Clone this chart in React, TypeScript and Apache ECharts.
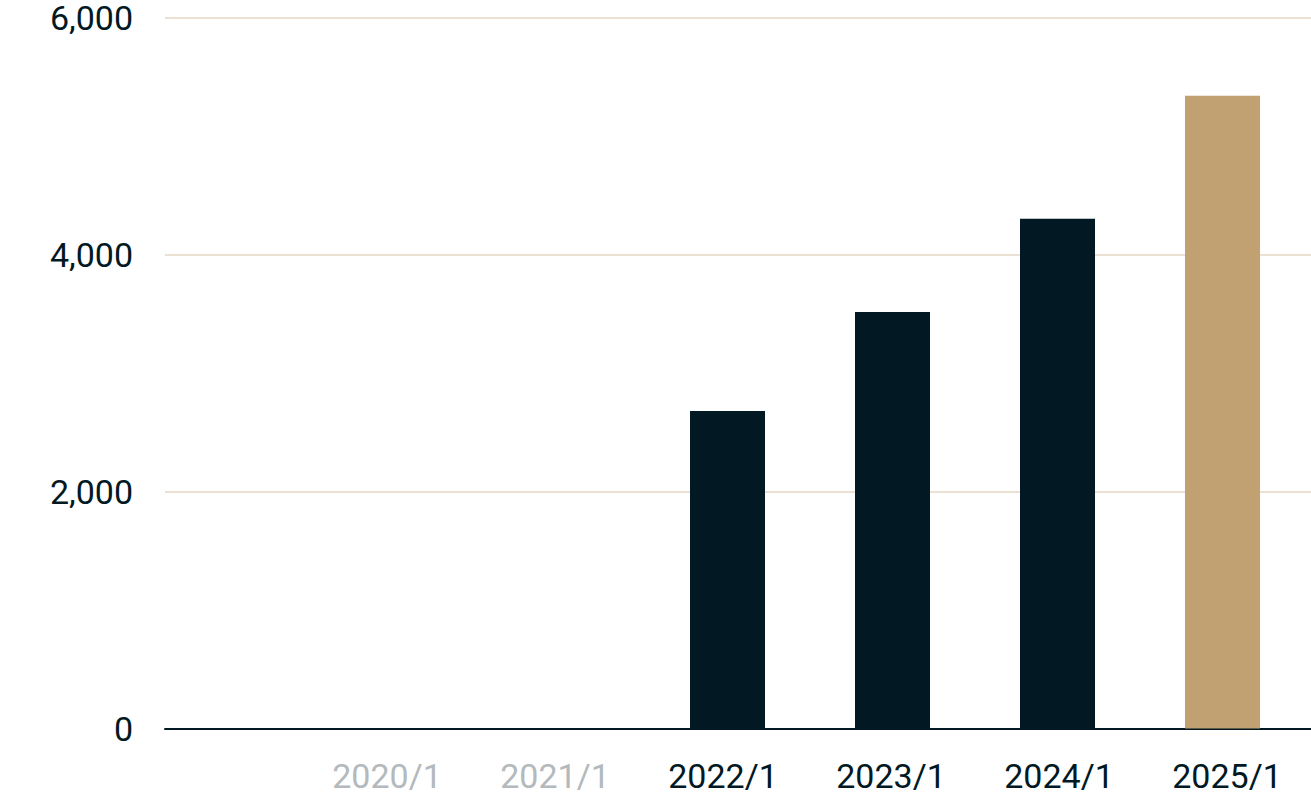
import React, { useEffect, useRef } from "react";
import * as echarts from "echarts";

const categories = ["2020/1", "2021/1", "2022/1", "2023/1", "2024/1", "2025/1"];
const values = [null, null, 2681, 3518, 4304, 5343];
const mutedCategories = ["2020/1", "2021/1"];
const highlightCategory = "2025/1";
const yTicks = [0, 2000, 4000, 6000];

const DARK = "#021923";
const GOLD = "#c1a171";
const GRID = "#ebe1d2";
const MUTED = "#b3b9bc";
const FONT = "Roboto, 'DejaVu Sans', sans-serif";

export default function App() {
  const ref = useRef<HTMLDivElement>(null);

  useEffect(() => {
    if (!ref.current) return;
    const chart = echarts.init(ref.current, undefined, { renderer: "svg" });
    const top = 18;
    const bottom = 72.5;
    const yRange = {
      type: "value",
      min: yTicks[0],
      max: yTicks[yTicks.length - 1],
      interval: yTicks[1] - yTicks[0],
    };
    chart.setOption({
      animation: false,
      grid: [
        { left: 165, right: 0, top, bottom },
        { left: 315, right: 6, top, bottom },
        { left: 303, right: -2, top, bottom },
      ],
      xAxis: [
        {
          gridIndex: 0,
          type: "value",
          min: 0,
          max: 1,
          axisLine: { show: true, lineStyle: { color: DARK, width: 2 } },
          axisTick: { show: false },
          axisLabel: { show: false },
          splitLine: { show: false },
        },
        {
          gridIndex: 1,
          type: "category",
          data: categories,
          axisLine: { show: false },
          axisTick: { show: false },
          axisLabel: { show: false },
        },
        {
          gridIndex: 2,
          type: "category",
          data: categories.map((c) => ({
            value: c,
            textStyle: { color: mutedCategories.includes(c) ? MUTED : DARK },
          })),
          axisLine: { show: false },
          axisTick: { show: false },
          axisLabel: {
            fontFamily: FONT,
            fontSize: 34,
            margin: 30,
            interval: 0,
          },
        },
      ],
      yAxis: [
        {
          gridIndex: 0,
          ...yRange,
          axisLine: { show: false },
          axisTick: { show: false },
          axisLabel: {
            color: DARK,
            fontFamily: FONT,
            fontSize: 34,
            lineHeight: 32,
            margin: 32,
            formatter: (v: number) => v.toLocaleString("en-US"),
          },
          splitLine: { show: true, lineStyle: { color: GRID, width: 2 } },
        },
        { gridIndex: 1, ...yRange, show: false },
        { gridIndex: 2, ...yRange, show: false },
      ],
      series: [
        {
          type: "bar",
          xAxisIndex: 1,
          yAxisIndex: 1,
          barWidth: 75,
          z: 1,
          data: values.map((v, i) => ({
            value: v,
            itemStyle: { color: categories[i] === highlightCategory ? GOLD : DARK },
          })),
        },
      ],
    });
    return () => chart.dispose();
  }, []);

  return (
    <div
      ref={ref}
      style={{ position: "fixed", left: 0, top: 0, width: 1311, height: 801, background: "#fff" }}
    />
  );
}
